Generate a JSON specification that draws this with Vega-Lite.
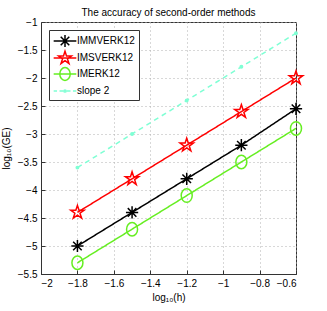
{
  "$schema": "https://vega.github.io/schema/vega-lite/v6.json",
  "width": 255,
  "height": 252,
  "autosize": {"type": "none"},
  "padding": {"left": 41, "top": 22, "right": 31, "bottom": 37},
  "background": "white",
  "title": {"text": "The accuracy of second-order methods", "fontSize": 10, "fontWeight": "normal", "font": "Liberation Sans", "offset": -1, "color": "#000"},
  "config": {
    "view": {"stroke": "#333", "strokeWidth": 1},
    "font": "Liberation Sans",
    "axis": {
      "labelFont": "Liberation Sans", "labelFontSize": 10, "labelColor": "#000",
      "titleFont": "Liberation Sans", "titleFontSize": 10, "titleFontWeight": "normal", "titleColor": "#000",
      "domainColor": "#333", "tickColor": "#333", "tickSize": -4,
      "gridColor": "#b0b0b0", "gridDash": [1, 3], "gridWidth": 1, "gridOpacity": 1
    },
    "legend": {
      "title": null, "orient": "top-left", "offset": 8,
      "fillColor": "white", "strokeColor": "#333", "padding": 4,
      "labelFont": "Liberation Sans", "labelFontSize": 10, "labelColor": "#000",
      "symbolSize": 150, "symbolStrokeWidth": 1.5, "symbolOffset": 5, "labelOffset": 5, "rowPadding": -5, "symbolOpacity": 1
    }
  },
  "data": {"values": [
    {"method": "IMMVERK12", "x": -1.8, "y": -5.0},
    {"method": "IMMVERK12", "x": -1.5, "y": -4.4},
    {"method": "IMMVERK12", "x": -1.2, "y": -3.8},
    {"method": "IMMVERK12", "x": -0.9, "y": -3.2},
    {"method": "IMMVERK12", "x": -0.6, "y": -2.55},
    {"method": "IMSVERK12", "x": -1.8, "y": -4.4},
    {"method": "IMSVERK12", "x": -1.5, "y": -3.8},
    {"method": "IMSVERK12", "x": -1.2, "y": -3.2},
    {"method": "IMSVERK12", "x": -0.9, "y": -2.6},
    {"method": "IMSVERK12", "x": -0.6, "y": -2.0},
    {"method": "IMERK12", "x": -1.8, "y": -5.3},
    {"method": "IMERK12", "x": -1.5, "y": -4.7},
    {"method": "IMERK12", "x": -1.2, "y": -4.1},
    {"method": "IMERK12", "x": -0.9, "y": -3.5},
    {"method": "IMERK12", "x": -0.6, "y": -2.9},
    {"method": "slope 2", "x": -1.8, "y": -3.6},
    {"method": "slope 2", "x": -1.5, "y": -3.0},
    {"method": "slope 2", "x": -1.2, "y": -2.4},
    {"method": "slope 2", "x": -0.9, "y": -1.8},
    {"method": "slope 2", "x": -0.6, "y": -1.2}
  ]},
  "encoding": {
    "x": {"field": "x", "type": "quantitative",
      "scale": {"domain": [-2, -0.6], "nice": false, "zero": false},
      "axis": {"title": "log₁₀(h)", "values": [-2, -1.8, -1.6, -1.4, -1.2, -1, -0.8, -0.6], "labelPadding": 8, "titlePadding": 4, "format": "~g"}},
    "y": {"field": "y", "type": "quantitative",
      "scale": {"domain": [-5.5, -1], "nice": false, "zero": false},
      "axis": {"title": "log₁₀(GE)", "values": [-5.5, -5, -4.5, -4, -3.5, -3, -2.5, -2, -1.5, -1], "labelPadding": 8, "titlePadding": 6, "format": "~g"}},
    "color": {"field": "method", "type": "nominal",
      "scale": {"domain": ["IMMVERK12", "IMSVERK12", "IMERK12", "slope 2"], "range": ["#000000", "#ff0000", "#66ee22", "#7fffd4"]}}
  },
  "layer": [
    {
      "mark": {"type": "line", "strokeWidth": 1.5},
      "encoding": {
        "color": {"field": "method", "type": "nominal", "legend": null},
        "strokeDash": {"condition": {"test": "datum.method === 'slope 2'", "value": [5, 4]}, "value": [1, 0]}
      }
    },
    {
      "mark": {"type": "point", "filled": false, "strokeWidth": 1.5, "size": 150, "opacity": 1},
      "encoding": {
        "color": {"field": "method", "type": "nominal", "legend": null},
        "shape": {"field": "method", "type": "nominal", "legend": null,
          "scale": {"domain": ["IMMVERK12", "IMSVERK12", "IMERK12", "slope 2"],
            "range": [
              "M-1,0L1,0M0,-1L0,1M-0.7,-0.7L0.7,0.7M-0.7,0.7L0.7,-0.7",
              "M0,-1.15L0.258,-0.355L1.094,-0.355L0.417,0.136L0.676,0.93L0,0.439L-0.676,0.93L-0.417,0.136L-1.094,-0.355L-0.258,-0.355Z",
              "M0,-1.1A0.9,1.1 0 1,1 0,1.1A0.9,1.1 0 1,1 0,-1.1Z",
              "M0,-0.2A0.2,0.2 0 1,1 0,0.2A0.2,0.2 0 1,1 0,-0.2Z"
            ]}},
        "fill": {"condition": {"test": "datum.method === 'slope 2'", "value": "#7fffd4"}, "value": "transparent"}
      }
    },
    {
      "transform": [{"filter": "datum.x > 100"}],
      "mark": {"type": "point", "filled": false, "strokeWidth": 1.5, "size": 150, "opacity": 1},
      "encoding": {
        "color": {"field": "method", "type": "nominal", "legend": {"title": null}},
        "shape": {"field": "method", "type": "nominal", "legend": {"title": null},
          "scale": {"domain": ["IMMVERK12", "IMSVERK12", "IMERK12", "slope 2"],
            "range": [
              "M-1.85,0L1.85,0M0,-1L0,1M-0.7,-0.7L0.7,0.7M-0.7,0.7L0.7,-0.7",
              "M-1.85,0L1.85,0M0,-1.1L0.247,-0.34L1.046,-0.34L0.399,0.13L0.647,0.89L0,0.42L-0.647,0.89L-0.399,0.13L-1.046,-0.34L-0.247,-0.34Z",
              "M-1.85,0L1.85,0M0,-1.05A0.85,1.05 0 1,1 0,1.05A0.85,1.05 0 1,1 0,-1.05Z",
              "M-1.85,0L-1.3,0M-0.9,0L-0.3,0M0.3,0L0.9,0M1.3,0L1.85,0M0,-0.18A0.18,0.18 0 1,1 0,0.18A0.18,0.18 0 1,1 0,-0.18Z"
            ]}}
      }
    }
  ],
  "resolve": {"scale": {"shape": "independent", "color": "independent"}}
}
